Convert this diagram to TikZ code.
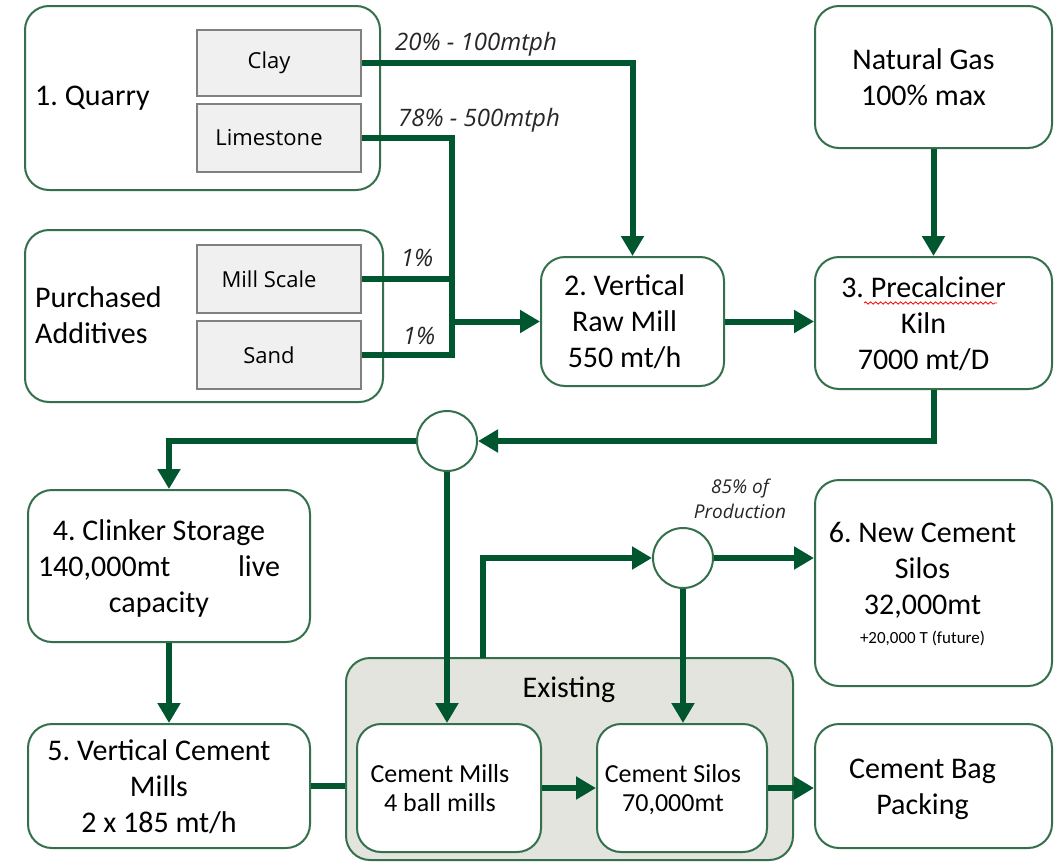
\documentclass[tikz,border=0pt]{standalone}
\usepackage{fontspec}
\setmainfont{Carlito}
\newfontfamily\segoe{Open Sans}
\usetikzlibrary{arrows.meta,decorations.pathmorphing}
\definecolor{flowgreen}{RGB}{0,86,46}
\definecolor{boxgreen}{RGB}{52,112,76}
\definecolor{subgray}{RGB}{240,240,240}
\definecolor{subedge}{RGB}{128,128,128}
\definecolor{existfill}{RGB}{228,228,222}
\newcommand\shtext[2][20pt]{\raisebox{-3pt}[\height][\depth]{\begin{tabular}{@{}c@{}}#2\end{tabular}}\hspace*{#1}}
\begin{document}
\frenchspacing
\begin{tikzpicture}[x=1pt,y=-1pt,
  box/.style={draw=boxgreen, line width=2pt, rounded corners=24pt, fill=white, align=center, inner sep=0pt, font=\fontsize{30}{36}\selectfont},
  sub/.style={draw=subedge, line width=1.6pt, fill=subgray, minimum width=164pt, inner sep=0pt, font=\segoe\fontsize{22}{26}\selectfont},
  junction/.style={circle, draw=boxgreen, line width=2pt, fill=white, minimum size=60pt, inner sep=0pt},
  flow/.style={draw=flowgreen, line width=6pt},
  arr/.style={flow, -{Triangle[length=20pt,width=22pt]}},
  biglabel/.style={font=\fontsize{30}{36}\selectfont, inner sep=0pt},
  lbl/.style={font=\segoe\itshape\fontsize{24}{28}\selectfont, text=black!85, inner sep=0pt}
]
\useasboundingbox (0,0) rectangle (1059,862);

% --- containers ---
\node[box, minimum width=355pt, minimum height=184pt] (quarry) at (202.5,98) {};
\node[box, minimum width=358pt, minimum height=172pt] (additives) at (204,316) {};
\node[box, fill=existfill, minimum width=447pt, minimum height=202pt] (existing) at (569.5,759) {};

% --- sub boxes ---
\node[sub, minimum height=66pt] (clay) at (279,63) {Clay\hspace*{20pt}};
\node[sub, minimum height=68pt] (limestone) at (279,138) {Limestone\hspace*{20pt}};
\node[sub, minimum height=68pt] (millscale) at (279,279) {Mill Scale\hspace*{20pt}};
\node[sub, minimum height=68pt] (sand) at (279,355) {Sand\hspace*{20pt}};

\node[biglabel, anchor=west] (quarrylbl) at (35,98) {1. Quarry};
\node[biglabel, anchor=west, align=left] (addlbl) at (35,315) {Purchased\\Additives};

% --- process boxes ---
\node[box, minimum width=183pt, minimum height=129pt] (rawmill) at (632.5,321.5) {\shtext[16pt]{2. Vertical\\Raw Mill\\550 mt/h}};
\node[box, minimum width=237pt, minimum height=142pt] (gas) at (933.5,77) {\shtext{Natural Gas\\100\% max}};
\node[box, minimum width=237pt, minimum height=132pt] (precal) at (933.5,323) {\shtext{3. Precalciner\\Kiln\\7000 mt/D}};
\node[box, minimum width=282pt, minimum height=152pt] (clinker) at (169,566) {\shtext{4. Clinker Storage\\\makebox[242pt]{140,000mt\hfill live}\\capacity}};
\node[box, minimum width=282pt, minimum height=124pt] (vcm) at (169,786) {\shtext{5. Vertical Cement\\Mills\\2 x 185 mt/h}};
\node[box, minimum width=237pt, minimum height=206pt] (newsilos) at (933.5,583) {\shtext[22pt]{6. New Cement\\Silos\\32,000mt\\[-7pt]{\fontsize{17}{22}\selectfont +20,000 T (future)}}};
\node[box, minimum width=237pt, minimum height=124pt] (bag) at (933.5,786) {\shtext[22pt]{Cement Bag\\Packing}};
\node[box, minimum width=184pt, minimum height=128pt, font=\fontsize{26}{29}\selectfont] (mills) at (449,788) {\shtext[18pt]{Cement Mills\\4 ball mills}};
\node[box, minimum width=170pt, minimum height=128pt, font=\fontsize{26}{29}\selectfont] (silos) at (682,788) {\shtext[18pt]{Cement Silos\\70,000mt}};
\node[biglabel] (existlbl) at (569,690) {Existing};

\node[junction] (c1) at (447,441) {};
\node[junction] (c2) at (683,558) {};

% spell-check squiggle under "Precalciner"
\coordinate (sqa) at (864,303);
\coordinate (sqb) at (997,303);
\draw[red, line width=0.8pt, decorate, decoration={snake, amplitude=1.2pt, segment length=5pt}] (sqa) -- (sqb);

% --- labels ---
\node[lbl] (l1) at (476,44) {20\% - 100mtph};
\node[lbl] (l2) at (479,120) {78\% - 500mtph};
\node[lbl] (l3) at (417,258) {1\%};
\node[lbl] (l4) at (419,336) {1\%};
\node[lbl, font=\segoe\itshape\fontsize{19}{25}\selectfont, align=center] (l5) at (740,499) {85\% of\\Production};

% --- connectors ---
\coordinate (jx) at (452,140);
\draw[arr] (clay.east) -| (rawmill.north);
\draw[flow] (limestone.east) -| (sand.east -| jx) -- (sand.east);
\draw[flow] (millscale.east) -- (millscale.east -| jx);
\draw[arr] (rawmill.west -| jx) -- (rawmill.west);
\draw[arr] (rawmill.east) -- (rawmill.east -| precal.west);
\draw[arr] (gas.south) -- (precal.north);
\draw[arr] (precal.south) |- (c1.east);
\draw[arr] (c1.west) -| (clinker.north);
\draw[arr] (clinker.south) -- (vcm.north);
\draw[flow] (vcm.east) -- (vcm.east -| existing.west);
\draw[arr] (c1.south) -- (c1.south |- mills.north);
\coordinate (tap) at (483,658);
\draw[arr] (tap) |- (c2.west);
\draw[arr] (c2.east) -- (newsilos.west |- c2.east);
\draw[arr] (c2.south) -- (c2.south |- silos.north);
\draw[arr] (mills.east) -- (mills.east -| silos.west);
\draw[arr] (silos.east) -- (silos.east -| bag.west);
\end{tikzpicture}
\end{document}
